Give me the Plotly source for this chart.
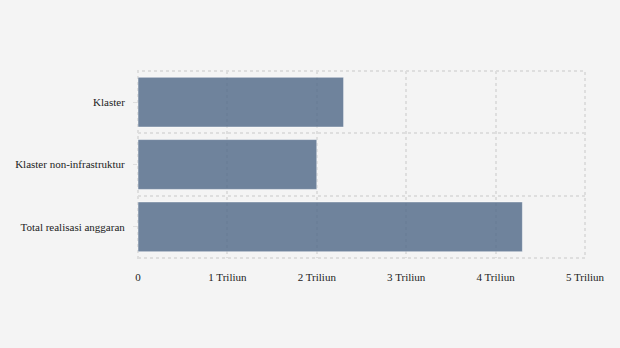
import plotly.graph_objects as go

categories = ["Total realisasi anggaran", "Klaster non-infrastruktur", "Klaster"]
values = [4.3, 2.0, 2.3]  # triliun
x_tickvals = [0, 1, 2, 3, 4, 5]
x_ticktext = ["0", "1 Triliun", "2 Triliun", "3 Triliun", "4 Triliun", "5 Triliun"]

positions = list(range(len(categories)))
bounds = [p - 0.5 for p in positions] + [positions[-1] + 0.5]

BG = "#f4f4f4"
GRID = "#dedede"
DASH = "3px,3px"
FONT = dict(family="Liberation Serif, Times New Roman, serif", size=11, color="#222222")

fig = go.Figure(go.Bar(
    x=values, y=positions, orientation="h", width=0.8,
    marker=dict(color="rgba(77,102,134,0.8)", line=dict(color="rgba(255,255,255,0.5)", width=1)),
    hoverinfo="skip",
))

fig.add_shape(type="rect", xref="paper", yref="paper", x0=0, x1=1, y0=0, y1=1,
              line=dict(color=GRID, width=2, dash=DASH), layer="below")

fig.update_layout(
    width=620, height=348,
    paper_bgcolor=BG, plot_bgcolor=BG,
    margin=dict(l=138, r=35, t=71, b=90),
    font=FONT, showlegend=False,
    xaxis=dict(
        range=[0, 5], tickvals=x_tickvals, ticktext=x_ticktext,
        showgrid=True, gridcolor=GRID, griddash=DASH, gridwidth=2,
        zeroline=False, showline=False,
        ticks="outside", ticklen=9, tickcolor=BG,
    ),
    yaxis=dict(
        range=[bounds[0], bounds[-1]],
        tickvals=positions, ticktext=categories,
        showgrid=False, zeroline=False, showline=False,
        ticks="outside", ticklen=4, tickcolor=GRID,
        ticklabelstandoff=6,
        minor=dict(tickvals=bounds, showgrid=True, gridcolor=GRID,
                   griddash=DASH, gridwidth=2, ticks=""),
    ),
)

fig.write_html("out.html")
